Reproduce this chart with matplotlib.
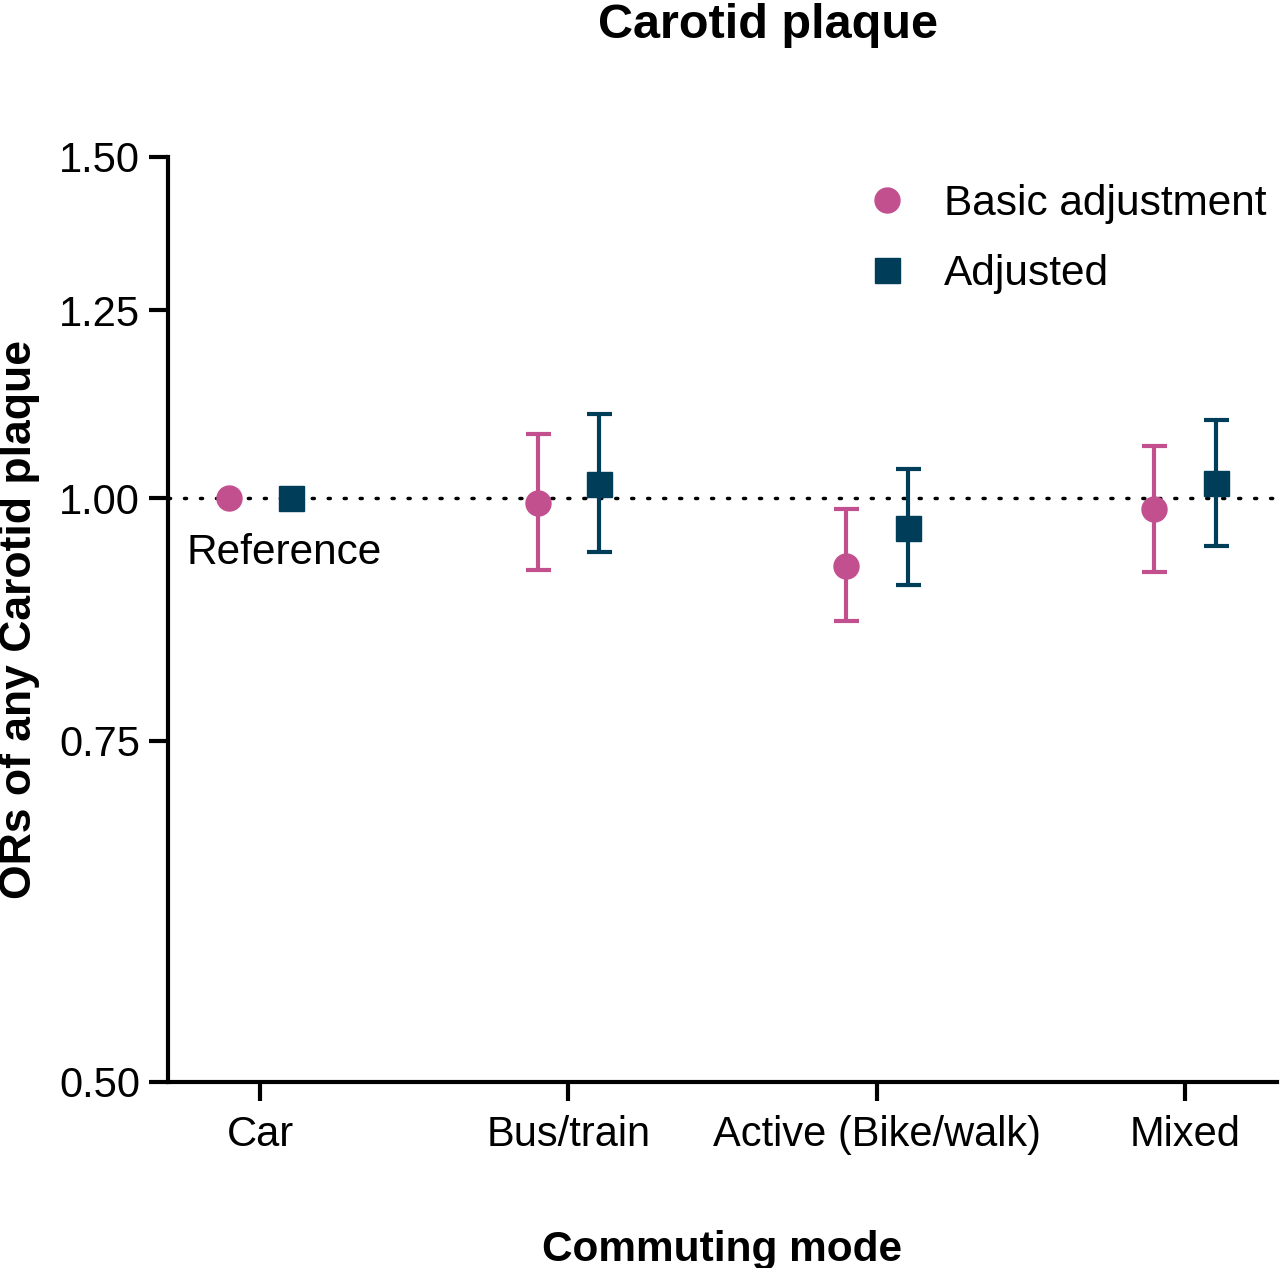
import numpy as np
import matplotlib.pyplot as plt
from matplotlib.ticker import FixedLocator, NullLocator

plt.rcParams['font.family'] = ['Liberation Sans', 'DejaVu Sans']

categories = ["Car", "Bus/train", "Active (Bike/walk)", "Mixed"]

basic_or = [1.00, 0.995, 0.923, 0.987]
basic_lo = [np.nan, 0.918, 0.864, 0.916]
basic_hi = [np.nan, 1.079, 0.988, 1.064]

adj_or = [1.00, 1.017, 0.965, 1.019]
adj_lo = [np.nan, 0.938, 0.902, 0.945]
adj_hi = [np.nan, 1.105, 1.035, 1.098]

yticks = [0.50, 0.75, 1.00, 1.25, 1.50]

pink = "#C2508F"
navy = "#003D58"

fig = plt.figure(figsize=(12.8, 12.68), dpi=100)
ax = fig.add_axes([0.131, 0.1467, 0.867, 0.7295])

x = np.arange(len(categories))
off = 0.1


def draw(xs, y, lo, hi, color, marker, label):
    y = np.array(y)
    lo = np.array(lo)
    hi = np.array(hi)
    ok = ~np.isnan(lo)
    ax.errorbar(xs[ok], y[ok], yerr=[y[ok] - lo[ok], hi[ok] - y[ok]],
                fmt='none', ecolor=color, elinewidth=3, capsize=9,
                capthick=3, zorder=3)
    ax.plot(xs, y, linestyle='none', marker=marker, color=color,
            markersize=18, label=label, zorder=4)


ax.axhline(1.0, color='black', linestyle=(0, (0.6, 4)), linewidth=2.5,
           dash_capstyle='round', zorder=1)

draw(x - off, basic_or, basic_lo, basic_hi, pink, 'o', "Basic adjustment")
draw(x + off, adj_or, adj_lo, adj_hi, navy, 's', "Adjusted")

ax.set_yscale('log')
ax.set_ylim(0.5, 1.5)
ax.yaxis.set_major_locator(FixedLocator(yticks))
ax.yaxis.set_minor_locator(NullLocator())
ax.set_yticklabels([f"{v:.2f}" for v in yticks])
ax.set_xlim(-0.3, 3.3)
ax.set_xticks(x)
ax.set_xticklabels(categories)

for s in ['top', 'right']:
    ax.spines[s].set_visible(False)
for s in ['left', 'bottom']:
    ax.spines[s].set_linewidth(3)
ax.tick_params(axis='both', which='major', direction='out', length=14,
               width=3, labelsize=30, pad=6)
ax.tick_params(axis='x', pad=10)

ax.text(-0.24, 0.937, "Reference", fontsize=30.5, ha='left', va='center')

ax.set_ylabel("ORs of any Carotid plaque", fontsize=32, fontweight='bold')
ax.yaxis.set_label_coords(-0.115, 0.5)
ax.set_xlabel("Commuting mode", fontsize=30.5, fontweight='bold', labelpad=54)
fig.suptitle("Carotid plaque", fontsize=35, fontweight='bold', x=0.6, y=0.998)

ax.legend(loc='upper right', bbox_to_anchor=(1.017, 1.003), frameon=False,
          fontsize=30.5, handletextpad=0.35, labelspacing=0.7, borderaxespad=0.3)

fig.savefig("out.png", dpi=100)
